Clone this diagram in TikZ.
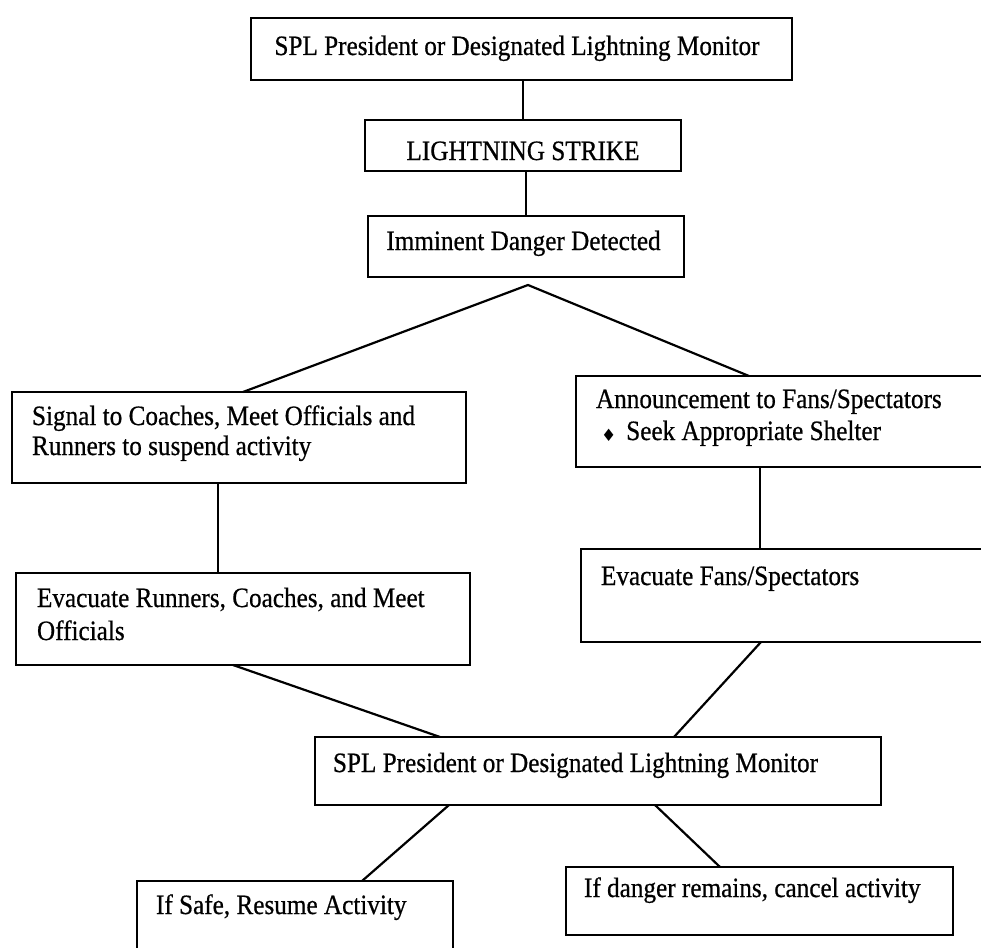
\documentclass[tikz,border=0pt]{standalone}
\usepackage{fontspec}
\setmainfont{Liberation Serif}[FakeStretch=0.9,FakeBold=0.6]
\newfontfamily\symfont{DejaVu Sans}
\begin{document}
\begin{tikzpicture}[x=1pt,y=-1pt,
  box/.style={draw, line width=2.2pt, inner sep=0pt, outer sep=0pt, anchor=north west},
  txt/.style={inner sep=0pt, outer sep=0pt, font=\fontsize{28}{31}\selectfont},
  link/.style={line width=2.2pt}]
\useasboundingbox (0,0) rectangle (981,947);
\clip (0,0) rectangle (981,947);
% boxes
\node[box, minimum width=541pt, minimum height=62pt] (b1) at (251,18) {};
\node[box, minimum width=316pt, minimum height=51pt] (b2) at (365,120) {};
\node[box, minimum width=316pt, minimum height=61pt] (b3) at (368,216) {};
\node[box, minimum width=454pt, minimum height=91pt] (b4) at (12,392) {};
\node[box, minimum width=408pt, minimum height=91pt] (b5) at (576,376) {};
\node[box, minimum width=403pt, minimum height=93pt] (b6) at (581,549) {};
\node[box, minimum width=454pt, minimum height=92pt] (b7) at (16,573) {};
\node[box, minimum width=566pt, minimum height=68pt] (b8) at (315,737) {};
\node[box, minimum width=316pt, minimum height=71pt] (b9) at (137,881) {};
\node[box, minimum width=387pt, minimum height=68pt] (b10) at (566,867) {};
% texts
\node[txt, anchor=base] (t1) at (517,55) {SPL President or Designated Lightning Monitor};
\node[txt, anchor=base] (t2) at (523,160) {LIGHTNING STRIKE};
\node[txt, anchor=base] (t3) at (523.5,250) {Imminent Danger Detected};
\node[txt, anchor=base west] (t4a) at (32,425) {Signal to Coaches, Meet Officials and};
\node[txt, anchor=base west] (t4b) at (32,455) {Runners to suspend activity};
\node[txt, anchor=base west] (t5a) at (596,408) {Announcement to Fans/Spectators};
\node[txt, anchor=base west] (t5b) at (601,440) {\raisebox{-1pt}{\symfont\fontsize{17}{20}\selectfont ♦}\hspace{10pt}Seek Appropriate Shelter};
\node[txt, anchor=base west] (t6) at (601,585) {Evacuate Fans/Spectators};
\node[txt, anchor=base west] (t7a) at (37,607) {Evacuate Runners, Coaches, and Meet};
\node[txt, anchor=base west] (t7b) at (37,640) {Officials};
\node[txt, anchor=base] (t8) at (575.5,772) {SPL President or Designated Lightning Monitor};
\node[txt, anchor=base west] (t9) at (156,914) {If Safe, Resume Activity};
\node[txt, anchor=base west] (t10) at (584,897) {If danger remains, cancel activity};
% connectors
\coordinate (apex) at (528,285);
\draw[link] (b1.south -| b2.north) -- (b2.north);
\draw[link] (b2.south -| b3.north) -- (b3.north);
\draw[link] ([xshift=4pt]b4.north) -- (apex) -- ([xshift=-31pt]b5.north);
\draw[link] ([xshift=-21pt]b4.south) -- ([xshift=-25pt]b7.north);
\draw[link] ([xshift=-20pt]b5.south) -- ([xshift=-22.5pt]b6.north);
\draw[link] ([xshift=-10pt]b7.south) -- ([xshift=-158pt]b8.north);
\draw[link] ([xshift=-21.5pt]b6.south) -- ([xshift=76pt]b8.north);
\draw[link] ([xshift=-149pt]b8.south) -- ([xshift=67pt]b9.north);
\draw[link] ([xshift=57pt]b8.south) -- ([xshift=-39.5pt]b10.north);
\end{tikzpicture}
\end{document}
